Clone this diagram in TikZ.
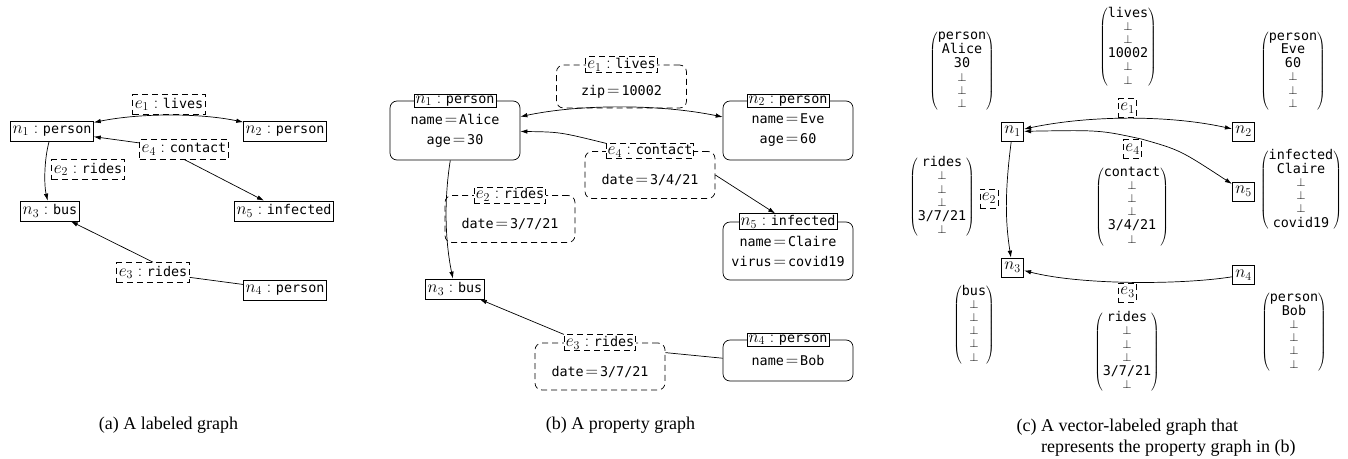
\documentclass[tikz,border=0pt]{standalone}
\usepackage{fontspec}
\setmainfont{Liberation Serif}
\setmonofont{DejaVu Sans Mono}[Scale=0.745]
\usetikzlibrary{arrows.meta}
\newcommand{\vecLabel}[1]{$\left(\renewcommand{\arraystretch}{0.66}\begin{array}{@{}c@{}}#1\end{array}\right)$}
\newcommand{\nil}{\hbox{\fontsize{12.5}{12}\selectfont$\bot$}}
\newcommand{\kv}[2]{$\texttt{#1}\mskip2mu{=}\mskip2mu\texttt{#2}$}

\begin{document}
\begin{tikzpicture}[x=1pt, y=-1pt, >={Latex[length=7pt,width=4.5pt]}, line width=0.7pt,
  every node/.style={font=\fontsize{18}{20}\selectfont},
  vtx/.style={draw, fill=white, inner sep=2pt, minimum height=20pt},
  lbl/.style={vtx, dash pattern=on 6pt off 4pt},
  prop/.style={draw, rounded corners=7pt, minimum width=130pt, align=center},
  eprop/.style={prop, dash pattern=on 6pt off 4pt, inner ysep=0pt, text height=33pt, text depth=14pt},
  ttl/.style={draw, fill=white, inner sep=1.5pt},
  ettl/.style={ttl, dash pattern=on 6pt off 4pt},
  vec/.style={inner sep=0pt},
  captxt/.style={font=\fontsize{18}{21}\selectfont}]
  \useasboundingbox (0,0) rectangle (1348,458);

  % (a) labeled graph
  \node[vtx] (a1) at (52,131) {$n_1:\texttt{person}$};
  \node[vtx] (a2) at (285,131) {$n_2:\texttt{person}$};
  \node[vtx] (a3) at (50,211) {$n_3:\texttt{bus}$};
  \node[vtx] (a4) at (285,290) {$n_4:\texttt{person}$};
  \node[vtx] (a5) at (284,211) {$n_5:\texttt{infected}$};
  \node[lbl] (ae1) at (169,104.5) {$e_1:\texttt{lives}$};
  \node[lbl] (ae2) at (88,169.5) {$e_2:\texttt{rides}$};
  \node[lbl] (ae3) at (153,272.5) {$e_3:\texttt{rides}$};
  \node[lbl] (ae4) at (184,149) {$e_4:\texttt{contact}$};
  \draw[<->] (a1) .. controls (140,113) and (200,113) .. (a2);
  \draw[->] (ae4) -- (a1);
  \draw[->] (ae4.south) -- (a5);
  \draw[->] (a1) .. controls (44,160) and (44,185) .. (a3);
  \draw (a4) -- (ae3);
  \draw[->] (ae3.north) -- (a3);
  \node[captxt] (capa) at (168.5,425) {(a) A labeled graph};

  % (b) property graph
  \node[prop, minimum height=59pt] (b1) at (455,130.5) {\kv{name}{Alice}\\\kv{age}{30}};
  \node[ttl] (b1t) at (b1.north) {$n_1:\texttt{person}$};
  \node[prop, minimum height=59pt] (b2) at (788,130.5) {\kv{name}{Eve}\\\kv{age}{60}};
  \node[ttl] (b2t) at (b2.north) {$n_2:\texttt{person}$};
  \node[vtx] (b3) at (455,289) {$n_3:\texttt{bus}$};
  \node[prop, minimum height=41pt] (b4) at (788,360.5) {\kv{name}{Bob}};
  \node[ttl] (b4t) at (b4.north) {$n_4:\texttt{person}$};
  \node[prop, minimum height=58pt] (b5) at (788,251) {\kv{name}{Claire}\\\kv{virus}{covid19}};
  \node[ttl] (b5t) at (b5.north) {$n_5:\texttt{infected}$};
  \node[eprop, text height=30pt, text depth=13pt] (be1) at (621.5,86.5) {\kv{zip}{10002}};
  \node[ettl] (be1t) at (be1.north) {$e_1:\texttt{lives}$};
  \node[eprop] (be2) at (510,219) {\kv{date}{3/7/21}};
  \node[ettl] (be2t) at (be2.north) {$e_2:\texttt{rides}$};
  \node[eprop] (be3) at (600,366.5) {\kv{date}{3/7/21}};
  \node[ettl] (be3t) at (be3.north) {$e_3:\texttt{rides}$};
  \node[eprop] (be4) at (650,175) {\kv{date}{3/4/21}};
  \node[ettl] (be4t) at (be4.north) {$e_4:\texttt{contact}$};
  \draw[<->] (b1) .. controls (580,104) and (660,104) .. (b2);
  \draw[->] (be4t.north west) .. controls (560,132) .. (b1);
  \draw[->] (be4.east) -- (b5t);
  \draw[->] (b1) .. controls (444,200) and (445,240) .. (b3);
  \draw (b4.178) -- (be3.12);
  \draw[->] (be3t.north west) -- (b3);
  \node[captxt] (capb) at (620.5,425) {(b) A property graph};

  % (c) vector-labeled graph
  \node[vtx, inner xsep=3pt, minimum height=19pt] (c1) at (1012.5,131.5) {$n_1$};
  \node[vtx, inner xsep=3pt, minimum height=19pt] (c2) at (1243.5,131.5) {$n_2$};
  \node[vtx, inner xsep=3pt, minimum height=19pt] (c3) at (1012.5,267.5) {$n_3$};
  \node[vtx, inner xsep=3pt, minimum height=19pt] (c4) at (1243.5,275) {$n_4$};
  \node[vtx, inner xsep=3pt, minimum height=19pt] (c5) at (1243.5,191.5) {$n_5$};
  \node[lbl, inner xsep=2pt, minimum height=19pt] (ce1) at (1127.5,108) {$e_1$};
  \node[lbl, inner xsep=2pt, minimum height=19pt] (ce2) at (989,198.5) {$e_2$};
  \node[lbl, inner xsep=2pt, minimum height=19pt] (ce3) at (1127.5,292.5) {$e_3$};
  \node[lbl, inner xsep=2pt, minimum height=19pt] (ce4) at (1132.5,149) {$e_4$};
  \draw[<->] (c1) .. controls (1090,115) and (1170,115) .. (c2);
  \draw[->] (ce4.north east) .. controls (1100,130) .. (c1);
  \draw[->] (ce4.north east) .. controls (1180,150) .. (c5);
  \draw[->] (c1) .. controls (1005,190) and (1005,220) .. (c3);
  \draw[->] (c4) .. controls (1180,285) and (1080,285) .. (c3);
  \node[vec] (v1) at (962,71) {\vecLabel{\texttt{person}\\\texttt{Alice}\\\texttt{30}\\\nil\\\nil\\\nil}};
  \node[vec] (v2) at (1293,71) {\vecLabel{\texttt{person}\\\texttt{Eve}\\\texttt{60}\\\nil\\\nil\\\nil}};
  \node[vec] (v3) at (974,325) {\vecLabel{\texttt{bus}\\\nil\\\nil\\\nil\\\nil\\\nil}};
  \node[vec] (v4) at (1294,332) {\vecLabel{\texttt{person}\\\texttt{Bob}\\\nil\\\nil\\\nil\\\nil}};
  \node[vec] (v5) at (1301,190) {\vecLabel{\texttt{infected}\\\texttt{Claire}\\\nil\\\nil\\\nil\\\texttt{covid19}}};
  \node[vec] (ve1) at (1128,47.5) {\vecLabel{\texttt{lives}\\\nil\\\nil\\\texttt{10002}\\\nil\\\nil}};
  \node[vec] (ve2) at (942,197) {\vecLabel{\texttt{rides}\\\nil\\\nil\\\nil\\\texttt{3/7/21}\\\nil}};
  \node[vec] (ve3) at (1127,352) {\vecLabel{\texttt{rides}\\\nil\\\nil\\\nil\\\texttt{3/7/21}\\\nil}};
  \node[vec] (ve4) at (1132,207) {\vecLabel{\texttt{contact}\\\nil\\\nil\\\nil\\\texttt{3/4/21}\\\nil}};
  \node[captxt, anchor=west, align=left] (capc) at (1013,437.5) {(c) A vector-labeled graph that\\\phantom{(c) }represents the property graph in (b)};
\end{tikzpicture}
\end{document}
